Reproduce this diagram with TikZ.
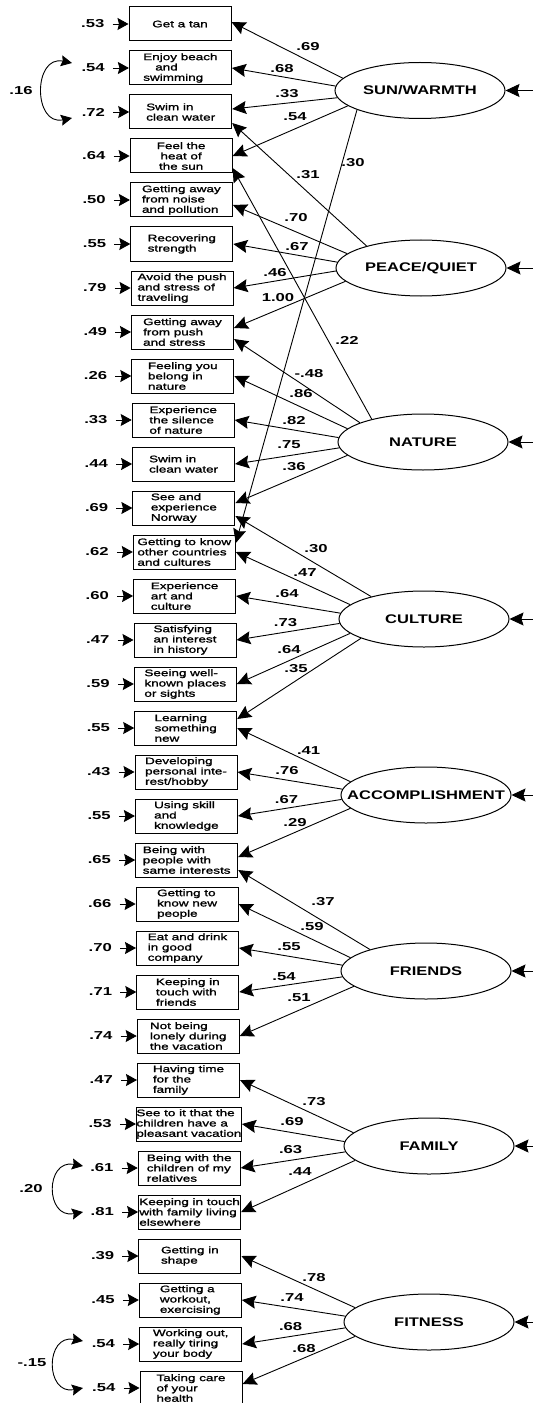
\documentclass[tikz,border=0pt]{standalone}
\usepackage{fontspec}
\setmainfont{Liberation Sans}
\newfontfamily\boxfont{Liberation Sans}[FakeStretch=1.42,FakeBold=1.4]
\newfontfamily\numfont{Liberation Sans}[FakeStretch=1.45]
\newfontfamily\latfont{Liberation Sans}[FakeStretch=1.32]
\usetikzlibrary{shapes.geometric,arrows.meta}
\newcommand\zw[1]{\makebox[0pt]{#1}}
\begin{document}
\begin{tikzpicture}[x=1bp,y=-1bp,
 box/.style={draw, line width=1bp, minimum width=102bp, minimum height=34bp, inner sep=0pt, align=left, font=\boxfont\fontsize{9.5bp}{10.3bp}\selectfont},
 lat/.style={draw, ellipse, line width=1bp, minimum width=170bp, minimum height=56bp, inner sep=0pt, font=\latfont\bfseries\fontsize{12.5bp}{13bp}\selectfont},
 num/.style={font=\numfont\bfseries\fontsize{11.5bp}{12bp}\selectfont, inner sep=0pt},
 load/.style={line width=0.9bp, -{Stealth[length=14bp,width=13bp,inset=2bp]}},
 res/.style={line width=0.9bp, -{Stealth[length=11bp,width=12bp,inset=1.5bp]}, shorten <=8bp},
 cov/.style={line width=0.9bp, {Stealth[length=11bp,width=11bp,inset=1.5bp]}-{Stealth[length=11bp,width=11bp,inset=1.5bp]}}
]
\fill[white] (0,0) rectangle (533,1403);
\useasboundingbox (0,0) rectangle (533,1403);

% observed variables
\node[box] (b1) at (180.0,24) {Get a tan};
\node[box] (b2) at (180.4,68) {Enjoy beach\\\hspace{12bp}and\\swimming};
\node[box] (b3) at (180.7,112) {Swim in\\clean water};
\node[box,align=center] (b4) at (181.1,156) {Feel the\\heat of\\the sun};
\node[box] (b5) at (181.4,200) {Getting away\\from noise\\and pollution};
\node[box] (b6) at (181.8,244) {Recovering\\strength};
\node[box] (b7) at (182.1,288) {Avoid the push\\and stress of\\traveling};
\node[box] (b8) at (182.5,332) {Getting away\\from push\\and stress};
\node[box] (b9) at (182.8,376) {Feeling you\\belong in\\nature};
\node[box] (b10) at (183.2,420) {Experience\\the silence\\of nature};
\node[box] (b11) at (183.6,464) {Swim in\\clean water};
\node[box] (b12) at (183.9,508) {See and\\experience\\Norway};
\node[box] (b13) at (184.3,552) {Getting to know\\other countries\\and cultures};
\node[box] (b14) at (184.6,596) {Experience\\art and\\culture};
\node[box] (b15) at (185.0,640) {Satisfying\\an interest\\in history};
\node[box] (b16) at (185.3,684) {Seeing well-\\known places\\or sights};
\node[box] (b17) at (185.7,728) {Learning\\something\\new};
\node[box] (b18) at (186.0,772) {Developing\\personal inte-\\rest/hobby};
\node[box] (b19) at (186.4,816) {Using skill\\and\\knowledge};
\node[box] (b20) at (186.7,860) {Being with\\people with\\same interests};
\node[box] (b21) at (187.1,904) {Getting to\\know new\\people};
\node[box] (b22) at (187.5,948) {Eat and drink\\in good\\company};
\node[box] (b23) at (187.8,992) {Keeping in\\touch with\\friends};
\node[box] (b24) at (188.2,1036) {Not being\\lonely during\\the vacation};
\node[box] (b25) at (188.5,1080) {Having time\\for the\\family};
\node[box] (b26) at (188.9,1124) {See to it that the\\children have a\\pleasant vacation};
\node[box] (b27) at (189.2,1168) {Being with the\\children of my\\relatives};
\node[box] (b28) at (189.6,1212) {Keeping in touch\\with family living\\elsewhere};
\node[box] (b29) at (189.9,1256) {Getting in\\shape};
\node[box] (b30) at (190.3,1300) {Getting a\\workout,\\exercising};
\node[box] (b31) at (190.7,1344) {Working out,\\really tiring\\your body};
\node[box] (b32) at (191.0,1388) {Taking care\\of your\\health};

% residuals
\foreach \i/\v in {1/.53,2/.54,3/.72,4/.64,5/.50,6/.55,7/.79,8/.49,9/.26,10/.33,11/.44,12/.69,13/.62,14/.60,15/.47,16/.59,17/.55,18/.43,19/.55,20/.65,21/.66,22/.70,23/.71,24/.74,25/.47,26/.53,27/.61,28/.81,29/.39,30/.45,31/.54,32/.54}{
  \node[num,anchor=east] (r\i) at ([xshift=-24bp]b\i.west) {\v};
  \draw[res] (r\i.east) -- (b\i.west);
}

% latent variables
\node[lat] (sun) at (420,90.5) {\zw{SUN/WARMTH}};
\node[lat] (peace) at (421,268) {\zw{PEACE/QUIET}};
\node[lat] (nature) at (423,442) {\zw{NATURE}};
\node[lat] (culture) at (424,619) {\zw{CULTURE}};
\node[lat] (acc) at (426,795) {\zw{ACCOMPLISHMENT}};
\node[lat] (friends) at (426,971) {\zw{FRIENDS}};
\node[lat] (family) at (429,1146) {\zw{FAMILY}};
\node[lat] (fitness) at (429,1322) {\zw{FITNESS}};

% disturbance arrows
\foreach \n in {sun,peace,nature,culture,acc,friends,family,fitness}{
  \coordinate (\n R) at (533,0 |- \n.center);
  \draw[load] (\n R) -- (\n.east);
}

% loadings
\draw[load] (sun.171) -- ([yshift=2bp]b1.east);
\draw[load] (sun.177) -- (b2.east);
\draw[load] (sun.185) -- ([yshift=3bp]b3.east);
\draw[load] (sun.192) -- (b4.east);
\draw[load] (sun.197) -- ([yshift=9bp]b13.east);

\draw[load] (peace.158) -- ([yshift=-11bp]b3.east);
\draw[load] (peace.169.5) -- ([yshift=-5bp]b5.east);
\draw[load] (peace.176) -- (b6.east);
\draw[load] (peace.182.5) -- (b7.east);
\draw[load] (peace.190.5) -- ([yshift=4bp]b8.east);

\draw[load] (nature.156) -- ([yshift=-12bp]b4.east);
\draw[load] (nature.163) -- ([yshift=-7bp]b8.east);
\draw[load] (nature.170) -- (b9.east);
\draw[load] (nature.177) -- (b10.east);
\draw[load] (nature.184) -- (b11.east);
\draw[load] (nature.190) -- ([yshift=5bp]b12.east);

\draw[load] (culture.157) -- ([yshift=-8bp]b12.east);
\draw[load] (culture.169.5) -- (b13.east);
\draw[load] (culture.176) -- (b14.east);
\draw[load] (culture.183.5) -- (b15.east);
\draw[load] (culture.191) -- (b16.east);
\draw[load] (culture.197) -- ([yshift=9bp]b17.east);

\draw[load] (acc.170) -- (b17.east);
\draw[load] (acc.176) -- (b18.east);
\draw[load] (acc.183.5) -- (b19.east);
\draw[load] (acc.190) -- ([yshift=3bp]b20.east);

\draw[load] (friends.159) -- ([yshift=-10bp]b20.east);
\draw[load] (friends.170) -- (b21.east);
\draw[load] (friends.176) -- (b22.east);
\draw[load] (friends.184) -- (b23.east);
\draw[load] (friends.192) -- (b24.east);

\draw[load] (family.170.5) -- (b25.east);
\draw[load] (family.177) -- (b26.east);
\draw[load] (family.184) -- (b27.east);
\draw[load] (family.191.5) -- (b28.east);

\draw[load] (fitness.169.5) -- (b29.east);
\draw[load] (fitness.176) -- (b30.east);
\draw[load] (fitness.184) -- (b31.east);
\draw[load] (fitness.191) -- ([yshift=4bp]b32.east);

% loading labels
\node[num] (l1) at (308,47) {.69};
\node[num] (l2) at (282,69) {.68};
\node[num] (l3) at (287,94) {.33};
\node[num] (l4) at (295,117) {.54};
\node[num] (l5) at (353,163) {.30};
\node[num] (l6) at (308,175) {.31};
\node[num] (l7) at (296,218) {.70};
\node[num] (l8) at (297,247) {.67};
\node[num] (l9) at (275,273) {.46};
\node[num] (l10) at (278,298) {1.00};
\node[num] (l11) at (347,340) {.22};
\node[num] (l12) at (309,374) {-.48};
\node[num] (l13) at (301,394) {.86};
\node[num] (l14) at (294,421) {.82};
\node[num] (l15) at (289,445) {.75};
\node[num] (l16) at (294,467) {.36};
\node[num] (l17) at (316,549) {.30};
\node[num] (l18) at (305,573) {.47};
\node[num] (l19) at (287,594) {.64};
\node[num] (l20) at (285.5,623) {.73};
\node[num] (l21) at (289,650) {.64};
\node[num] (l22) at (296,669) {.35};
\node[num] (l23) at (308.6,751) {.41};
\node[num] (l24) at (287,771) {.76};
\node[num] (l25) at (286.5,800) {.67};
\node[num] (l26) at (295,823) {.29};
\node[num] (l27) at (323,902) {.37};
\node[num] (l28) at (312,927) {.59};
\node[num] (l29) at (289,947) {.55};
\node[num] (l30) at (284,977) {.54};
\node[num] (l31) at (299,998) {.51};
\node[num] (l32) at (314,1102) {.73};
\node[num] (l33) at (292,1122) {.69};
\node[num] (l34) at (290.6,1150) {.63};
\node[num] (l35) at (300,1172) {.44};
\node[num] (l36) at (314,1278) {.78};
\node[num] (l37) at (292,1298) {.74};
\node[num] (l38) at (290.6,1327) {.68};
\node[num] (l39) at (304,1349) {.68};

% covariances
\coordinate (c1a) at (72,63);
\coordinate (c1b) at (72,118);
\draw[cov] (c1a) .. controls (33,55) and (33,126) .. (c1b);
\node[num] (k1) at (21,91) {.16};
\coordinate (c2a) at (83,1166);
\coordinate (c2b) at (83,1212);
\draw[cov] (c2a) .. controls (45,1159) and (45,1219) .. (c2b);
\node[num] (k2) at (31,1189) {.20};
\coordinate (c3a) at (83,1341);
\coordinate (c3b) at (83,1388);
\draw[cov] (c3a) .. controls (45,1334) and (45,1395) .. (c3b);
\node[num] (k3) at (32,1363) {-.15};
\end{tikzpicture}
\end{document}
